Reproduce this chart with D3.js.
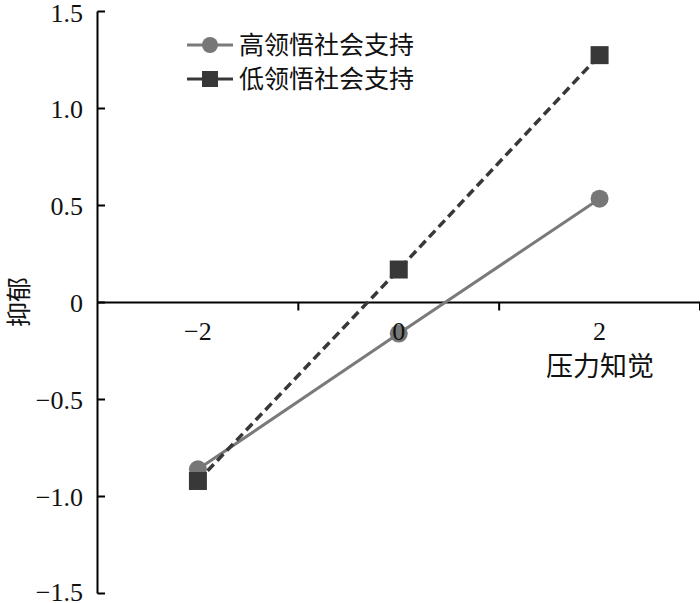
<!DOCTYPE html>
<html><head><meta charset="utf-8">
<script src="https://cdn.jsdelivr.net/npm/d3@7"></script>
<style>body{margin:0;background:#fff}svg{display:block}
.num{font-family:"Liberation Serif","Times New Roman",serif;font-size:26px;fill:#111}
.cjk{font-family:"Noto Sans CJK SC",sans-serif;fill:#111}
</style>
</head><body>
<script>
const categories = ["−2", "0", "2"];
const seriesNames = ["高领悟社会支持", "低领悟社会支持"];
const highValues = [-0.86, -0.16, 0.535];
const lowValues = [-0.92, 0.17, 1.275];
const yTicks = [1.5, 1.0, 0.5, 0, -0.5, -1.0, -1.5];
const yTickLabels = ["1.5", "1.0", "0.5", "0", "−0.5", "−1.0", "−1.5"];
const xTitle = "压力知觉";
const yTitle = "抑郁";

const W = 700, H = 603;
const svg = d3.select("body").append("svg").attr("width", W).attr("height", H);
const x = d3.scaleBand().domain(categories).range([97.5, 700]);
const y = d3.scaleLinear().domain([-1.5, 1.5]).range([593.5, 11.5]);

// y axis
svg.append("line").attr("x1", 97.5).attr("x2", 97.5).attr("y1", y(1.5)).attr("y2", y(-1.5))
  .attr("stroke", "#000").attr("stroke-width", 2);
yTicks.forEach((t, i) => {
  svg.append("line").attr("x1", 97.5).attr("x2", 105).attr("y1", y(t)).attr("y2", y(t))
    .attr("stroke", "#000").attr("stroke-width", 2);
  svg.append("text").attr("class", "num").attr("x", 83).attr("y", Math.min(Math.max(y(t) + 9, 22), 601)).attr("text-anchor", "end")
    .text(yTickLabels[i]);
});
// x axis at 0
svg.append("line").attr("x1", 97.5).attr("x2", 700).attr("y1", y(0)).attr("y2", y(0))
  .attr("stroke", "#000").attr("stroke-width", 2);
categories.forEach((c) => {
  const xr = x(c) + x.bandwidth();
  svg.append("line").attr("x1", xr).attr("x2", xr).attr("y1", y(0)).attr("y2", y(0) + 8)
    .attr("stroke", "#000").attr("stroke-width", 2);
});

// series
const line = d3.line().x((d, i) => x(categories[i]) + x.bandwidth() / 2).y(d => y(d));
svg.append("path").datum(highValues).attr("d", line).attr("fill", "none")
  .attr("stroke", "#7a7a7a").attr("stroke-width", 3);
svg.append("path").datum(lowValues).attr("d", line).attr("fill", "none")
  .attr("stroke", "#383838").attr("stroke-width", 3.5).attr("stroke-dasharray", "9,5");
highValues.forEach((v, i) => {
  svg.append("circle").attr("cx", x(categories[i]) + x.bandwidth() / 2).attr("cy", y(v)).attr("r", 9)
    .attr("fill", "#777");
});
lowValues.forEach((v, i) => {
  svg.append("rect").attr("x", x(categories[i]) + x.bandwidth() / 2 - 9).attr("y", y(v) - 9)
    .attr("width", 18).attr("height", 18).attr("fill", "#383838");
});

// x tick labels
categories.forEach(c => {
  svg.append("text").attr("class", "num").attr("x", x(c) + x.bandwidth() / 2).attr("y", y(0) + 37)
    .attr("text-anchor", "middle").text(c);
});

// titles
svg.append("text").attr("class", "cjk").attr("x", 600).attr("y", 376).attr("text-anchor", "middle")
  .attr("font-size", 27).text(xTitle);
svg.append("text").attr("class", "cjk").attr("transform", "translate(28,302) rotate(-90)").attr("text-anchor", "middle")
  .attr("font-size", 25).text(yTitle);

// legend
const legY = [45, 79];
legY.forEach((ly, i) => {
  svg.append("line").attr("x1", 187).attr("x2", 233).attr("y1", ly).attr("y2", ly)
    .attr("stroke", i === 0 ? "#7a7a7a" : "#383838").attr("stroke-width", 3);
  if (i === 0) svg.append("circle").attr("cx", 210).attr("cy", ly).attr("r", 8).attr("fill", "#777");
  else svg.append("rect").attr("x", 202).attr("y", ly - 8).attr("width", 16).attr("height", 16).attr("fill", "#383838");
  svg.append("text").attr("class", "cjk").attr("x", 239).attr("y", ly + 9)
    .attr("font-size", 25).text(seriesNames[i]);
});
</script>
</body></html>
